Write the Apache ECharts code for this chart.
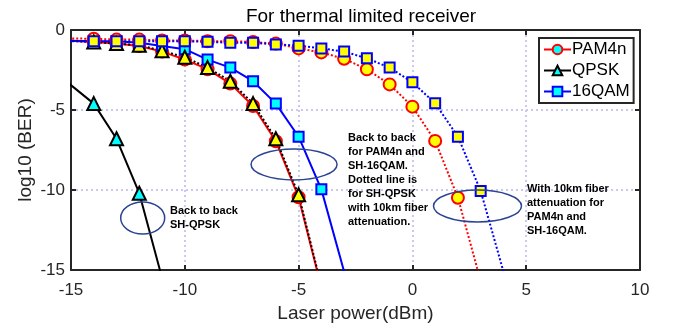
<!DOCTYPE html>
<html>
<head>
<meta charset="utf-8">
<script src="https://cdn.jsdelivr.net/npm/echarts@6/dist/echarts.min.js"></script>
<style>
  html, body { margin: 0; padding: 0; background: #fff; }
  #chart { width: 681px; height: 325px; }
</style>
</head>
<body>
<div id="chart"></div>
<script>
// [laser power (dBm), log10(BER)]
const pam4nB2B = [[-16, -0.6], [-14, -0.75], [-13, -0.85], [-12, -1.0], [-11, -1.35], [-10, -1.85],
  [-9, -2.45], [-8, -3.35], [-7, -4.75], [-6, -6.95], [-5, -10.45], [-4, -16.1]]
const qpskB2B = [[-16, -2.3], [-14, -4.6], [-13, -6.8], [-12, -10.2], [-11, -15.5]]
const qam16B2B = [[-16, -0.65], [-14, -0.7], [-13, -0.7], [-12, -0.8], [-11, -1.0], [-10, -1.2],
  [-9, -1.85], [-8, -2.35], [-7, -3.2], [-6, -4.6], [-5, -6.67], [-4, -9.96], [-3, -15.1]]
const pam4n10km = [[-16, -0.5], [-14, -0.55], [-13, -0.6], [-12, -0.6], [-11, -0.65], [-10, -0.65],
  [-9, -0.7], [-8, -0.7], [-7, -0.75], [-6, -0.85], [-5, -1.15], [-4, -1.4], [-3, -1.8],
  [-2, -2.46], [-1, -3.4], [0, -4.79], [1, -6.93], [2, -10.48], [3, -15.7]]
const qpsk10km = [[-16, -0.6], [-14, -0.75], [-13, -0.85], [-12, -0.95], [-11, -1.3], [-10, -1.7],
  [-9, -2.35], [-8, -3.2], [-7, -4.6], [-6, -6.8], [-5, -10.3], [-4, -16.0]]
const qam1610km = [[-16, -0.7], [-14, -0.7], [-13, -0.7], [-12, -0.7], [-11, -0.7], [-10, -0.7],
  [-9, -0.74], [-8, -0.8], [-7, -0.8], [-6, -0.9], [-5, -0.98], [-4, -1.15], [-3, -1.35],
  [-2, -1.77], [-1, -2.35], [0, -3.27], [1, -4.58], [2, -6.67], [3, -10.06], [4, -15.1]]

const legendNames = ['PAM4n', 'QPSK', '16QAM']

// annotations: ellipse centre in data units, radii in px
const notes = [
  { at: [-11.85, -11.75], rx: 22, ry: 16, text: 'Back to back\nSH-QPSK', pos: [170, 204] },
  { at: [-5.2, -8.4], rx: 43, ry: 15.5, text: 'Back to back\nfor PAM4n and\nSH-16QAM.\nDotted line is\nfor SH-QPSK\nwith 10km fiber\nattenuation.', pos: [348, 131] },
  { at: [2.86, -11.0], rx: 44, ry: 16, text: 'With 10km fiber\nattenuation for\nPAM4n and\nSH-16QAM.', pos: [527, 182] }
]

const axisColor = '#262626'
const font = 'Liberation Sans'

function makeSeries(name, data, color, symbol, size, fill, dotted) {
  return {
    name: name,
    type: 'line',
    data: data,
    symbol: symbol,
    symbolSize: size,
    clip: true,
    lineStyle: { color: color, width: 2, type: dotted ? [2, 2] : 'solid' },
    itemStyle: { color: fill, borderColor: color, borderWidth: 2 }
  }
}

function frameAxis(extra) {
  return Object.assign({
    type: 'value',
    nameMoveOverlap: false,
    axisLine: { show: true, onZero: false, lineStyle: { color: axisColor, width: 2 } },
    axisTick: { show: true, inside: true, length: 5, lineStyle: { color: axisColor, width: 2 } },
    axisLabel: { show: false },
    splitLine: { show: false }
  }, extra)
}

const gridLine = { show: true, lineStyle: { color: '#c8c8f2', width: 2, type: [2, 3] } }

const chart = echarts.init(document.getElementById('chart'))
chart.setOption({
  animation: false,
  title: {
    text: 'For thermal limited receiver',
    left: 356,
    top: 2,
    textAlign: 'center',
    textStyle: { fontFamily: font, fontSize: 19, fontWeight: 'normal', color: '#000' }
  },
  legend: {
    data: legendNames,
    orient: 'vertical',
    left: 539,
    top: 38,
    itemWidth: 27,
    itemHeight: 12,
    itemGap: 4,
    padding: [3, 4, 3, 4],
    backgroundColor: '#fff',
    borderColor: axisColor,
    borderWidth: 2,
    borderRadius: 0,
    textStyle: { fontFamily: font, fontSize: 17, color: '#000', padding: [0, 0, 0, -4] }
  },
  grid: { left: 71, right: 41, top: 30, bottom: 55, containLabel: false, outerBoundsMode: 'none' },
  xAxis: [
    frameAxis({
      min: -15, max: 10, interval: 5, position: 'bottom',
      name: 'Laser power(dBm)', nameLocation: 'middle', nameGap: 34,
      nameTextStyle: { fontFamily: font, fontSize: 19, color: axisColor },
      axisLabel: { show: true, fontFamily: font, fontSize: 17, color: axisColor, margin: 12 },
      splitLine: gridLine
    }),
    frameAxis({ min: -15, max: 10, interval: 5, position: 'top' })
  ],
  yAxis: [
    frameAxis({
      min: -15, max: 0, interval: 5, position: 'left',
      name: 'log10 (BER)', nameLocation: 'middle', nameGap: 36,
      nameTextStyle: { fontFamily: font, fontSize: 19, color: axisColor },
      axisLabel: { show: true, fontFamily: font, fontSize: 17, color: axisColor, margin: 6 },
      splitLine: gridLine
    }),
    frameAxis({ min: -15, max: 0, interval: 5, position: 'right' })
  ],
  series: [
    makeSeries('PAM4n', pam4nB2B, '#ff0000', 'circle', 12, '#00ffff', false),
    makeSeries('QPSK', qpskB2B, '#000000', 'triangle', 13, '#00ffff', false),
    makeSeries('16QAM', qam16B2B, '#0000ff', 'rect', 10, '#00ffff', false),
    makeSeries('PAM4n 10km', pam4n10km, '#ff0000', 'circle', 12, '#ffff00', true),
    makeSeries('QPSK 10km', qpsk10km, '#000000', 'triangle', 13, '#ffff00', true),
    makeSeries('16QAM 10km', qam1610km, '#0000ff', 'rect', 10, '#ffff00', true)
  ]
})

const graphics = []
notes.forEach(function (n) {
  const c = chart.convertToPixel({ gridIndex: 0 }, n.at)
  graphics.push({
    type: 'ellipse',
    shape: { cx: c[0], cy: c[1], rx: n.rx, ry: n.ry },
    style: { fill: 'none', stroke: '#2b4393', lineWidth: 1.5 },
    z: 100
  })
  graphics.push({
    type: 'text',
    x: n.pos[0],
    y: n.pos[1],
    style: { text: n.text, font: 'bold 11px ' + font, lineHeight: 14, fill: '#000' },
    z: 100
  })
})
chart.setOption({ graphic: graphics })
</script>
</body>
</html>
